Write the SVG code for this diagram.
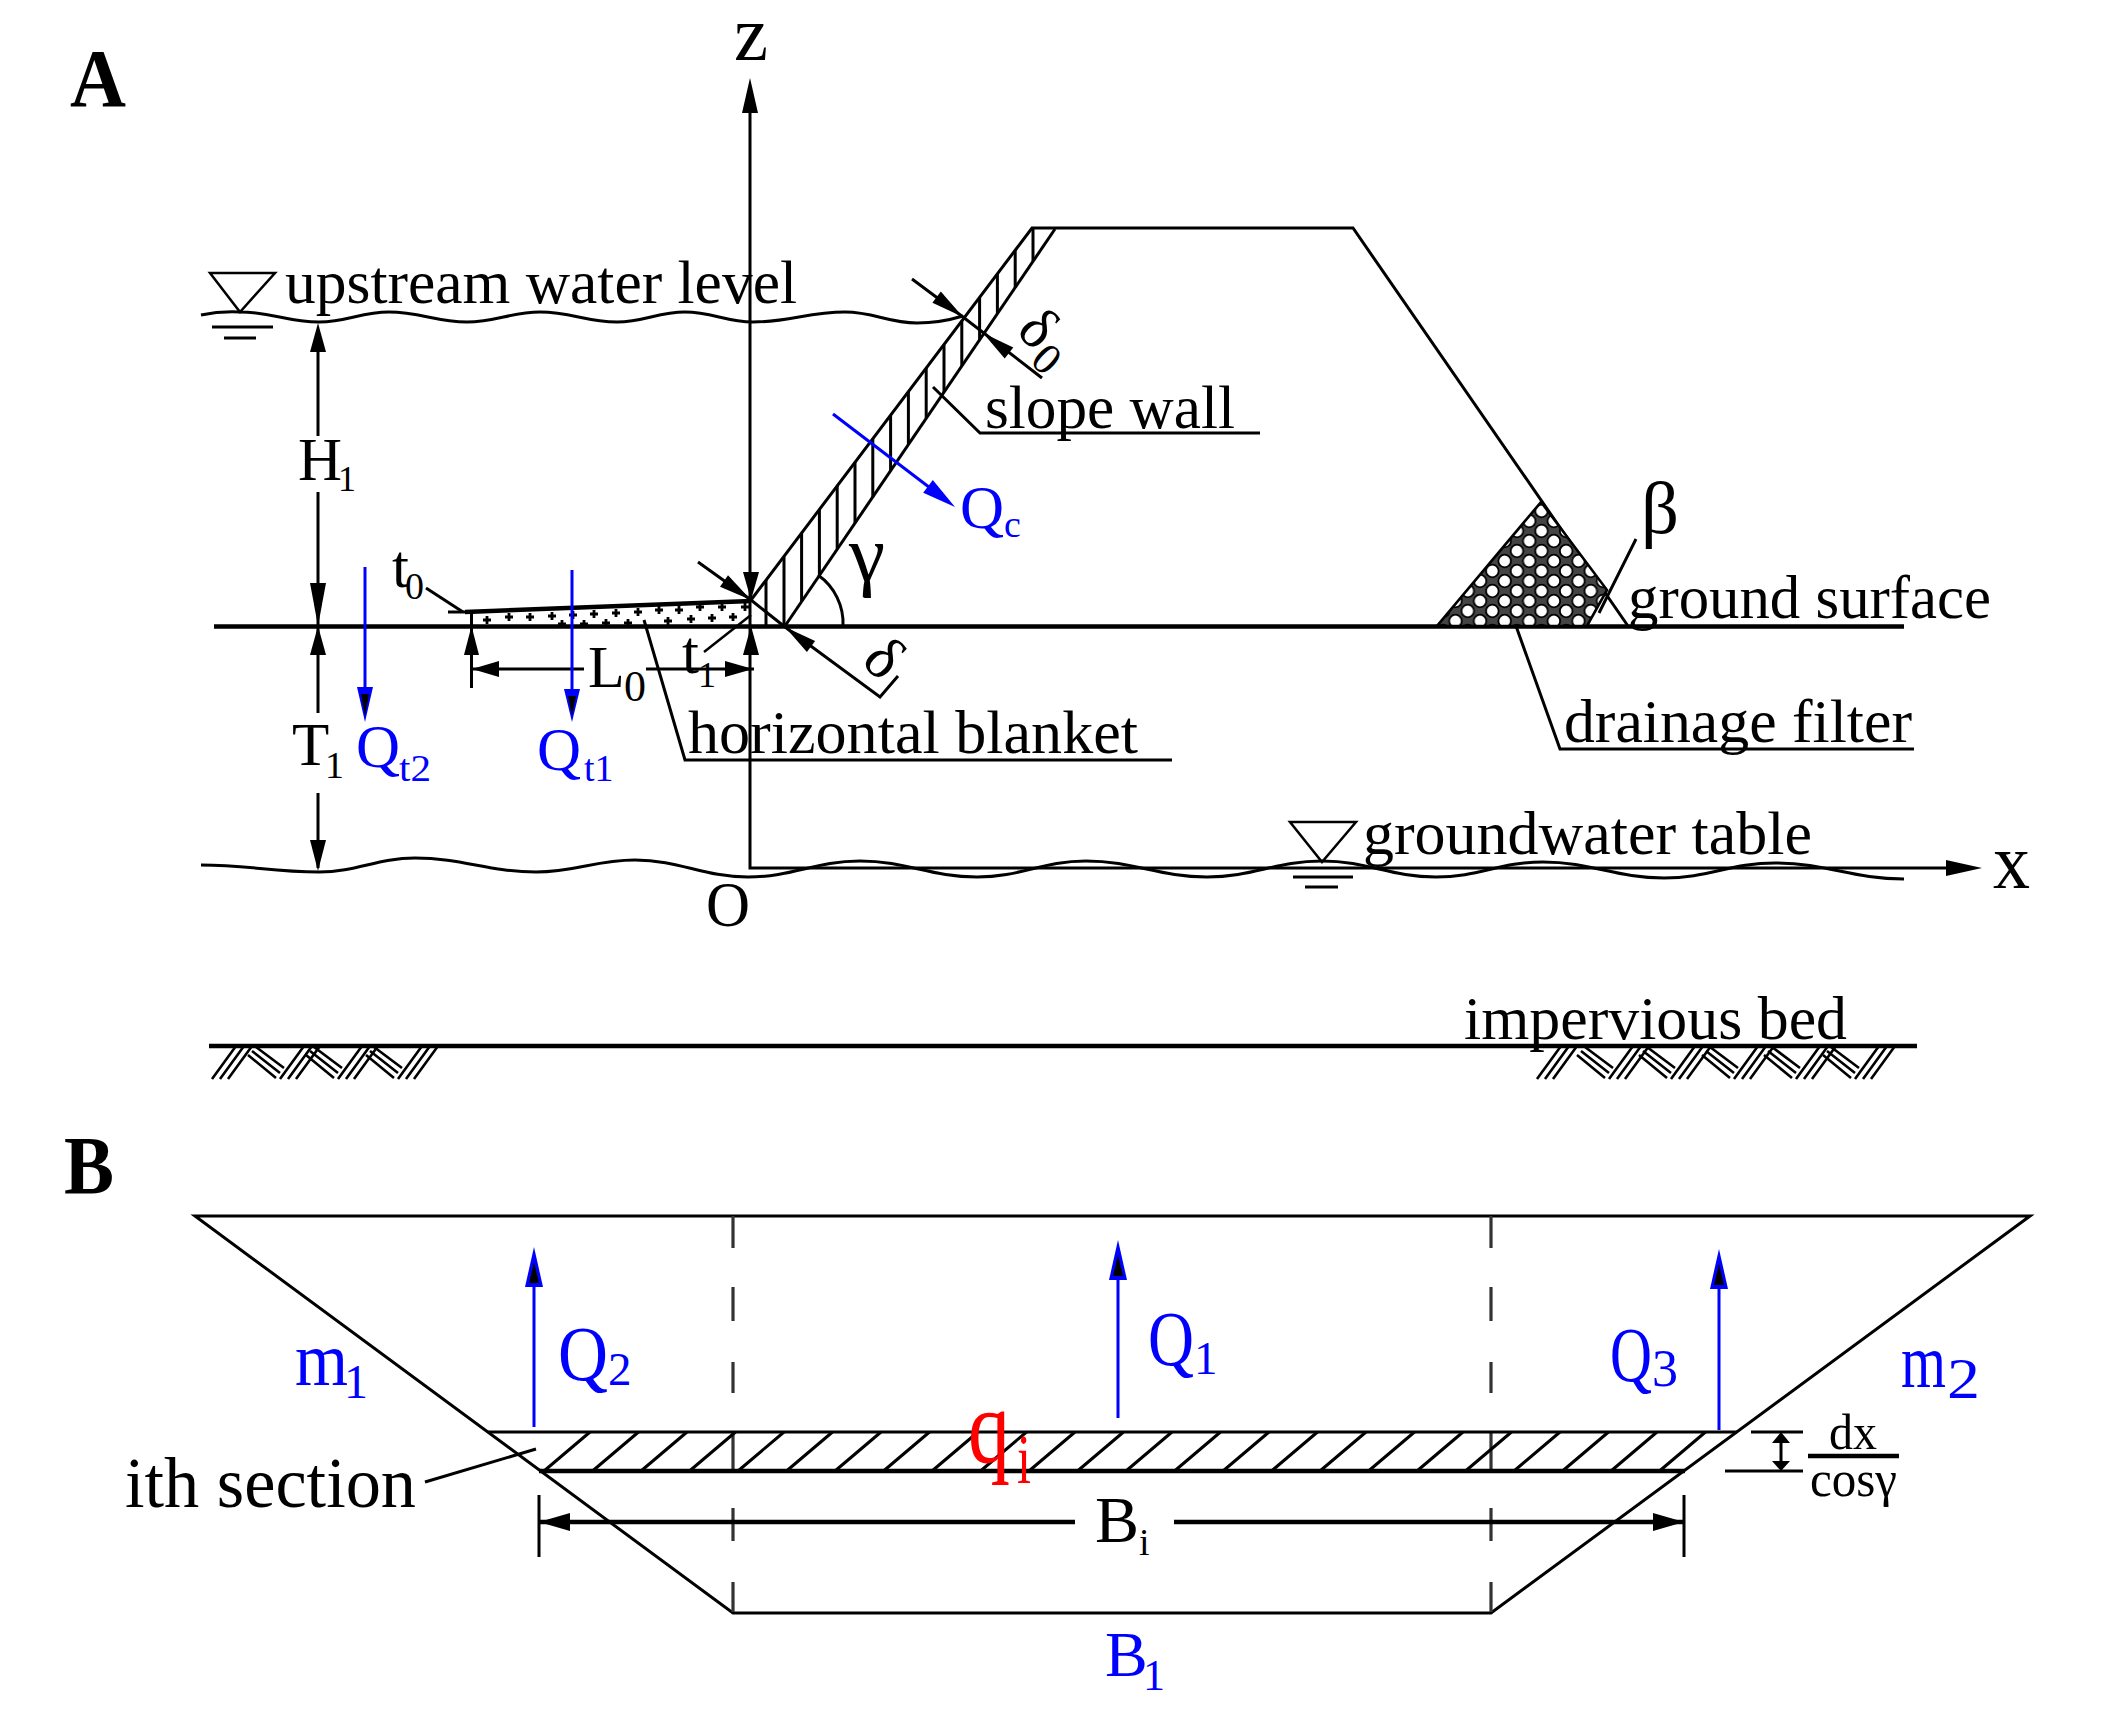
<svg xmlns="http://www.w3.org/2000/svg" xmlns:xlink="http://www.w3.org/1999/xlink" width="2102" height="1735" viewBox="0 0 2102 1735">
<style>
text{font-family:"Liberation Serif","Times New Roman",serif;fill:#000;font-size:61px}
.bold{font-weight:bold}
.blue,.blue tspan{fill:#0000ff}
.red,.red tspan{fill:#ff0000}
.sub{font-size:38px}
.l,.thin,.thick,.hat,.bl{fill:none;stroke:#000;stroke-linecap:butt}
.l{stroke-width:3}
.thin{stroke-width:2.5}
.thick{stroke-width:4.5}
.hat{stroke-width:3}
.bl{stroke:#0000ff;stroke-width:3}
.dash{fill:none;stroke:#333;stroke-width:3.2}
.h{fill:#000;stroke:none}
.hb{fill:#0000ff;stroke:none}
.cell{fill:#fff;stroke:#000;stroke-width:1.8}
</style>
<defs>
<pattern id="honey" width="24.6" height="20" patternUnits="userSpaceOnUse" x="1437" y="506">
<rect width="24.6" height="20" fill="#444"/>
<circle class="cell" cx="6.15" cy="5" r="6.3"/>
<circle class="cell" cx="18.45" cy="15" r="6.3"/>
<circle class="cell" cx="-6.15" cy="15" r="6.3"/>
<circle class="cell" cx="30.75" cy="5" r="6.3"/>
<circle class="cell" cx="18.45" cy="-5" r="6.3"/>
<circle class="cell" cx="6.15" cy="25" r="6.3"/>
</pattern>
<path id="plus" d="M-4 0H4M0 -4V4" fill="none" stroke="#000" stroke-width="2.8"/>
<path id="fwd" d="M0 1079L24 1046M8 1079L32 1046M16 1079L40 1046" fill="none" stroke="#000" stroke-width="2.6"/>
<path id="back" d="M-24 1047L4 1068M-28 1051L0 1073M-32 1055L-4 1078" fill="none" stroke="#000" stroke-width="2.6"/>
</defs>
<rect width="2102" height="1735" fill="#fff"/>

<g id="panel-a">
<g id="panel-a-label"><text class="bold" x="70" y="106" style="font-size:82px" textLength="56" lengthAdjust="spacingAndGlyphs">A</text></g>

<g id="axes">
<path class="l" d="M750 110V868H1950"/>
<polygon class="h" points="750,78 758,113 742,113"/>
<polygon class="h" points="1982,868 1946,860 1946,876"/>
<text x="734" y="60" style="font-size:78px" textLength="34" lengthAdjust="spacingAndGlyphs">z</text>
<text x="1993" y="888" style="font-size:78px" textLength="37" lengthAdjust="spacingAndGlyphs">x</text>
<text x="706" y="926" style="font-size:64px" textLength="44" lengthAdjust="spacingAndGlyphs">O</text>
</g>

<g id="ground-surface">
<path class="thick" d="M214 626.5H1904"/>
<text x="1628" y="618" textLength="363" lengthAdjust="spacingAndGlyphs">ground surface</text>
</g>

<g id="upstream-water">
<path class="l" d="M201 315Q220 311 240 312C272 312 287 322 319 322C347 322 361 312 389 312C420 312 436 322 467 322C496 322 511 312 540 312C571 312 586 322 617 322C644 322 658 312 685 312C712 312 726 322 753 322C790 322 808 312 845 312C874 312 888 323 917 323Q940 323 963 316"/>
<polygon class="thin" points="210,273 275,273 240,312"/>
<path class="l" d="M212 327H273M224 338H256"/>
<text x="285" y="303" textLength="512" lengthAdjust="spacingAndGlyphs">upstream water level</text>
</g>

<g id="groundwater">
<path class="l" d="M201 865C248 865 272 872 319 872C357 872 377 858 415 858C463 858 488 872 536 872C576 872 595 860 635 860C680 860 703 877 748 877C793 877 815 861 860 861C907 861 930 877 977 877C1021 877 1042 861 1086 861C1134 861 1159 877 1207 877C1253 877 1276 861 1322 861C1368 861 1390 877 1436 877C1479 877 1500 862 1543 862C1591 862 1616 878 1664 878C1708 878 1731 863 1775 863C1827 863 1852 879 1904 879"/>
<polygon class="thin" points="1290,822 1356,822 1322,862"/>
<path class="l" d="M1293 877H1353M1305 887H1338"/>
<text x="1363" y="854" textLength="449" lengthAdjust="spacingAndGlyphs">groundwater table</text>
</g>

<g id="dam">
<path class="l" d="M751 600L1032 228H1353L1628 626"/>
<path class="l" d="M785 626L1055 229"/>
<path class="hat" d="M1033 228V261M1015.2 250V288M997.4 274V314M979.6 297V340M961.8 321V366M944 345V392M926.2 368V418M908.4 392V444M890.6 415V471M872.8 439V497M855 462V523M837.2 486V549M819.4 510V575M801.6 533V601M784 557V627M766 580V626"/>
<path class="l" d="M843 626A59 59 0 0 0 818 575"/>
<text x="849" y="581" style="font-size:80px" textLength="36" lengthAdjust="spacingAndGlyphs">γ</text>
</g>

<g id="slope-wall-label">
<path class="l" d="M933 387L980 433H1260"/>
<text x="985" y="428" textLength="250" lengthAdjust="spacingAndGlyphs">slope wall</text>
</g>

<g id="delta-top">
<path class="l" d="M912 279L963 317L1042 378"/>
<polygon class="h" points="963,317 940.8,291.6 932.4,302.8"/>
<polygon class="h" points="983,333 1013.3,347.5 1004.7,358.5"/>
<text transform="translate(1015 333) rotate(43)" style="font-size:60px">δ<tspan x="30" y="12" style="font-size:44px">0</tspan></text>
</g>

<g id="delta-toe">
<path class="l" d="M698 562L751 600L785 627L880 697L898 676"/>
<polygon class="h" points="751,600 728,575.3 720,586.7"/>
<polygon class="h" points="785,627 815.1,640.9 806.9,652.1"/>
<text transform="translate(860 663) rotate(43)" style="font-size:62px">δ</text>
</g>

<g id="blanket">
<path class="l" d="M448 612H471"/>
<path class="thick" d="M465 612L751 601"/>
<path class="l" d="M471.5 612V688"/>
<path class="thin" d="M751 615L704 652"/>
<g>
<use xlink:href="#plus" href="#plus" x="487" y="620"/><use xlink:href="#plus" href="#plus" x="509" y="617"/><use xlink:href="#plus" href="#plus" x="530" y="617"/><use xlink:href="#plus" href="#plus" x="552" y="616"/><use xlink:href="#plus" href="#plus" x="573" y="615"/><use xlink:href="#plus" href="#plus" x="594" y="614"/><use xlink:href="#plus" href="#plus" x="616" y="613"/><use xlink:href="#plus" href="#plus" x="638" y="612"/><use xlink:href="#plus" href="#plus" x="659" y="610"/><use xlink:href="#plus" href="#plus" x="679" y="610"/><use xlink:href="#plus" href="#plus" x="700" y="607"/><use xlink:href="#plus" href="#plus" x="722" y="607"/><use xlink:href="#plus" href="#plus" x="745" y="607"/>
<use xlink:href="#plus" href="#plus" x="562" y="624"/><use xlink:href="#plus" href="#plus" x="584" y="624"/><use xlink:href="#plus" href="#plus" x="606" y="623"/><use xlink:href="#plus" href="#plus" x="628" y="623"/><use xlink:href="#plus" href="#plus" x="668" y="621"/><use xlink:href="#plus" href="#plus" x="691" y="619"/><use xlink:href="#plus" href="#plus" x="712" y="618"/><use xlink:href="#plus" href="#plus" x="733" y="617"/>
</g>
<path class="l" d="M644 620L685 760H1172"/>
<text x="688" y="753" textLength="450" lengthAdjust="spacingAndGlyphs">horizontal blanket</text>
<path class="l" d="M426 588L463 612"/>
<text x="392" y="587">t<tspan class="sub" x="405" y="599">0</tspan></text>
</g>

<g id="dim-l0">
<path class="l" d="M470 669H584M646 669H754"/>
<polygon class="h" points="472,669 499,661 499,677"/>
<polygon class="h" points="753,669 725,661 725,677"/>
<polygon class="h" points="471.5,626 479,655 464,655"/>
<polygon class="h" points="751,626 759,655 743,655"/>
<polygon class="h" points="751,600 743,572 759,572"/>
<text x="588" y="687" style="font-size:60px">L<tspan x="624" y="701" style="font-size:44px">0</tspan></text>
<text x="682" y="673">t<tspan x="698" y="687" style="font-size:36px">1</tspan></text>
</g>

<g id="dim-h1-t1">
<path class="l" d="M318 340V436M318 492V626M318 626V713M318 793V868"/>
<polygon class="h" points="318,323 326,352 310,352"/>
<polygon class="h" points="318,626 310,583 326,583"/>
<polygon class="h" points="318,626 326,655 310,655"/>
<polygon class="h" points="318,871 310,840 326,840"/>
<text x="298" y="480">H<tspan x="338" y="491" style="font-size:36px">1</tspan></text>
<text x="292" y="765">T<tspan class="sub" x="325" y="778">1</tspan></text>
</g>

<g id="flow-qt2">
<path class="bl" d="M365 567V700"/>
<polygon class="hb" points="365,722 357,687 373,687"/>
<polygon class="h" points="365,716 361,694 369,694"/>
<text class="blue" x="356" y="767">Q<tspan x="399" y="781" style="font-size:38px" textLength="32" lengthAdjust="spacingAndGlyphs">t2</tspan></text>
</g>
<g id="flow-qt1">
<path class="bl" d="M572 570V700"/>
<polygon class="hb" points="572,722 564,689 580,689"/>
<polygon class="h" points="572,716 568,696 576,696"/>
<text class="blue" x="537" y="770">Q<tspan x="584" y="781" style="font-size:38px">t1</tspan></text>
</g>
<g id="flow-qc">
<path class="bl" d="M833 414L940 495.5"/>
<polygon class="hb" points="955,507 932.8,480 923.2,492.8"/>
<text class="blue" x="960" y="528">Q<tspan class="sub" x="1004" y="537">c</tspan></text>
</g>

<g id="drainage-filter">
<polygon points="1541,502 1437,626 1587,626 1607,590" fill="url(#honey)" stroke="#000" stroke-width="2.6"/>
<path class="l" d="M1516 626L1560 749H1914"/>
<text x="1564" y="742" textLength="348" lengthAdjust="spacingAndGlyphs">drainage filter</text>
<path class="l" d="M1636 539L1599 613"/>
<text x="1641" y="533" style="font-size:75px" textLength="38" lengthAdjust="spacingAndGlyphs">β</text>
</g>

<g id="impervious-bed">
<path class="thick" d="M209 1046H1917"/>
<use xlink:href="#fwd" href="#fwd" x="212"/><use xlink:href="#back" href="#back" x="280"/><use xlink:href="#fwd" href="#fwd" x="280"/><use xlink:href="#back" href="#back" x="338"/><use xlink:href="#fwd" href="#fwd" x="338"/><use xlink:href="#back" href="#back" x="398"/><use xlink:href="#fwd" href="#fwd" x="398"/>
<use xlink:href="#fwd" href="#fwd" x="1537"/><use xlink:href="#back" href="#back" x="1609"/><use xlink:href="#fwd" href="#fwd" x="1609"/><use xlink:href="#back" href="#back" x="1671"/><use xlink:href="#fwd" href="#fwd" x="1671"/><use xlink:href="#back" href="#back" x="1734"/><use xlink:href="#fwd" href="#fwd" x="1734"/><use xlink:href="#back" href="#back" x="1796"/><use xlink:href="#fwd" href="#fwd" x="1796"/><use xlink:href="#back" href="#back" x="1855"/><use xlink:href="#fwd" href="#fwd" x="1855"/>
<text x="1464" y="1039" textLength="383" lengthAdjust="spacingAndGlyphs">impervious bed</text>
</g>
</g>

<g id="panel-b">
<g id="panel-b-label"><text class="bold" x="64" y="1193" style="font-size:82px" textLength="50" lengthAdjust="spacingAndGlyphs">B</text></g>

<g id="trapezoid">
<path class="l" d="M195 1216H2030L1491 1613H733Z"/>
<path class="dash" d="M733 1216V1248M733 1287V1321M733 1362V1393M733 1432V1471M733 1508V1541M733 1582V1612"/>
<path class="dash" d="M1491 1216V1248M1491 1287V1321M1491 1362V1393M1491 1432V1471M1491 1508V1541M1491 1582V1612"/>
</g>

<g id="ith-section">
<path class="l" d="M488 1432H1737"/>
<path class="thick" d="M539 1471H1685"/>
<path class="hat" d="M590 1432L544 1471M638.5 1432L592.5 1471M687 1432L641 1471M735.5 1432L689.5 1471M784 1432L738 1471M832.5 1432L786.5 1471M881 1432L835 1471M929.5 1432L883.5 1471M978 1432L932 1471M1026.5 1432L980.5 1471M1075 1432L1029 1471M1123.5 1432L1077.5 1471M1172 1432L1126 1471M1220.5 1432L1174.5 1471M1269 1432L1223 1471M1317.5 1432L1271.5 1471M1366 1432L1320 1471M1414.5 1432L1368.5 1471M1463 1432L1417 1471M1511.5 1432L1465.5 1471M1560 1432L1514 1471M1608.5 1432L1562.5 1471M1657 1432L1611 1471M1705.5 1432L1659.5 1471"/>
<path class="l" d="M425 1482L536 1449"/>
<text x="125" y="1507" style="font-size:72px" textLength="291" lengthAdjust="spacingAndGlyphs">ith section</text>
<text class="red" x="968" y="1462" style="font-size:105px" textLength="42" lengthAdjust="spacingAndGlyphs">q</text>
<text class="red" x="1017" y="1483" style="font-size:70px" textLength="14" lengthAdjust="spacingAndGlyphs">i</text>
</g>

<g id="dim-bi">
<path class="thick" d="M539 1522H1075M1174 1522H1684"/>
<path class="l" d="M539 1495V1557M1684 1495V1557"/>
<polygon class="h" points="539,1522 570,1513 570,1531"/>
<polygon class="h" points="1684,1522 1653,1513 1653,1531"/>
<text x="1095" y="1542" style="font-size:66px">B<tspan class="sub" x="1139" y="1555">i</tspan></text>
</g>

<g id="dim-dx">
<path class="l" d="M1751 1432H1803M1725 1471H1803M1781 1436V1466"/>
<polygon class="h" points="1781,1432 1790,1443 1772,1443"/>
<polygon class="h" points="1781,1471 1772,1461 1790,1461"/>
<path class="thick" d="M1808 1456H1899"/>
<text x="1829" y="1449" style="font-size:50px" textLength="48" lengthAdjust="spacingAndGlyphs">dx</text>
<text x="1810" y="1496" style="font-size:50px" textLength="87" lengthAdjust="spacingAndGlyphs">cosγ</text>
</g>

<g id="flow-q2">
<path class="bl" d="M534 1427V1280"/>
<polygon class="hb" points="534,1247 543,1287 525,1287"/>
<polygon class="h" points="534,1262 539,1283 529,1283"/>
<text class="blue" x="558" y="1380" style="font-size:78px" textLength="50" lengthAdjust="spacingAndGlyphs">Q</text>
<text class="blue" x="608" y="1385" style="font-size:47px">2</text>
</g>
<g id="flow-q1">
<path class="bl" d="M1118 1418V1275"/>
<polygon class="hb" points="1118,1240 1127,1280 1109,1280"/>
<polygon class="h" points="1118,1255 1123,1276 1113,1276"/>
<text class="blue" x="1148" y="1365" style="font-size:78px" textLength="46" lengthAdjust="spacingAndGlyphs">Q</text>
<text class="blue" x="1194" y="1374" style="font-size:47px">1</text>
</g>
<g id="flow-q3">
<path class="bl" d="M1719 1430V1285"/>
<polygon class="hb" points="1719,1249 1728,1289 1710,1289"/>
<polygon class="h" points="1719,1264 1724,1285 1714,1285"/>
<text class="blue" x="1610" y="1381" style="font-size:78px" textLength="42" lengthAdjust="spacingAndGlyphs">Q</text>
<text class="blue" x="1652" y="1386" style="font-size:52px">3</text>
</g>

<g id="label-m1"><text class="blue" x="295" y="1385" style="font-size:76px" textLength="53" lengthAdjust="spacingAndGlyphs">m</text><text class="blue" x="344" y="1398" style="font-size:48px">1</text></g>
<g id="label-m2"><text class="blue" x="1901" y="1387" style="font-size:76px" textLength="45" lengthAdjust="spacingAndGlyphs">m</text><text class="blue" x="1947" y="1398" style="font-size:56px" textLength="33" lengthAdjust="spacingAndGlyphs">2</text></g>
<g id="label-b1"><text class="blue" x="1105" y="1676" style="font-size:64px">B<tspan x="1143" y="1690" style="font-size:44px">1</tspan></text></g>
</g>
</svg>
